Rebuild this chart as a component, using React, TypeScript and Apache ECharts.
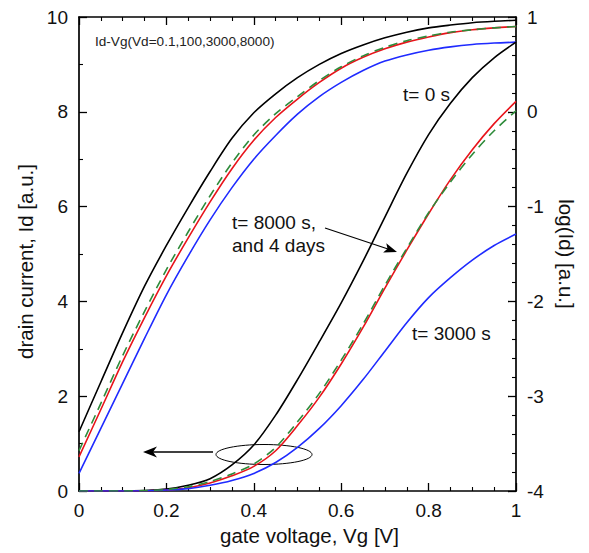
import React, { useEffect, useRef } from "react";
import * as echarts from "echarts";

// Gate voltage samples shared by all curves
const vg = [0, 0.05, 0.1, 0.15, 0.2, 0.25, 0.3, 0.35, 0.4, 0.45, 0.5, 0.55, 0.6, 0.65, 0.7, 0.75, 0.8, 0.85, 0.9, 0.95, 1.0];

// Upper family: log(Id) on right axis
const logT0 = [-3.375, -2.85, -2.33, -1.84, -1.41, -1.01, -0.63, -0.28, -0.01, 0.19, 0.36, 0.5, 0.615, 0.705, 0.78, 0.84, 0.885, 0.915, 0.94, 0.955, 0.965];
const logT8000 = [-3.64, -3.14, -2.635, -2.17, -1.73, -1.33, -0.95, -0.6, -0.3, -0.06, 0.135, 0.31, 0.46, 0.575, 0.665, 0.735, 0.79, 0.835, 0.865, 0.885, 0.9];
const logT4d = [-3.575, -3.075, -2.57, -2.105, -1.665, -1.265, -0.885, -0.54, -0.245, -0.02, 0.16, 0.33, 0.475, 0.59, 0.68, 0.75, 0.8, 0.84, 0.865, 0.885, 0.9];
const logT3000 = [-3.815, -3.34, -2.865, -2.39, -1.93, -1.52, -1.14, -0.8, -0.5, -0.25, -0.025, 0.16, 0.31, 0.435, 0.535, 0.6, 0.65, 0.685, 0.71, 0.725, 0.735];

// Lower family: linear Id on left axis
const idT0 = [0, 0, 0, 0.01, 0.04, 0.12, 0.26, 0.55, 0.97, 1.6, 2.35, 3.15, 3.97, 4.85, 5.78, 6.7, 7.52, 8.18, 8.72, 9.14, 9.47];
const idT8000 = [0, 0, 0, 0.005, 0.02, 0.07, 0.17, 0.32, 0.52, 0.85, 1.38, 1.98, 2.68, 3.45, 4.28, 5.08, 5.85, 6.57, 7.2, 7.75, 8.22];
const idT4d = [0, 0, 0, 0.01, 0.03, 0.09, 0.2, 0.36, 0.57, 0.92, 1.46, 2.06, 2.76, 3.52, 4.34, 5.12, 5.87, 6.52, 7.1, 7.6, 8.02];
const idT3000 = [0, 0, 0, 0.005, 0.02, 0.05, 0.12, 0.22, 0.37, 0.6, 0.92, 1.32, 1.8, 2.35, 2.95, 3.55, 4.08, 4.5, 4.87, 5.18, 5.42];

const FONT = "Liberation Sans, Arial, Helvetica, sans-serif";

const zip = (xs: number[], ys: number[]) => xs.map((x, i) => [x, ys[i]]);

export default function App() {
  const ref = useRef<HTMLDivElement>(null);
  useEffect(() => {
    if (!ref.current) return;
    const chart = echarts.init(ref.current, undefined, { renderer: "svg" });
    const axisLine = { show: true, onZero: false, lineStyle: { color: "#000", width: 1.7 } };
    const tick = { show: true, inside: true, length: 8, lineStyle: { color: "#000", width: 1.3 } };
    const minor = (n: number) => ({ show: true, splitNumber: n, length: 4, lineStyle: { color: "#000", width: 1.1 } });
    const lbl = { color: "#111", fontSize: 19, fontFamily: FONT };
    const line = (name: string, data: number[][], color: string, yAxisIndex: number, dashed = false) => ({
      type: "line",
      name,
      data,
      yAxisIndex,
      showSymbol: false,
      smooth: 0.3,
      lineStyle: { color, width: 1.6, type: dashed ? [9, 6] : "solid" },
      z: dashed ? 4 : 3,
    });
    chart.setOption({
      animation: false,
      backgroundColor: "#fff",
      grid: { left: 79, top: 17, right: 73, bottom: 62 },
      xAxis: [
        {
          type: "value", min: 0, max: 1, interval: 0.2,
          axisLine, axisTick: tick, minorTick: minor(4), splitLine: { show: false },
          axisLabel: { ...lbl, margin: 10, formatter: (v: number) => String(+v.toFixed(1)) },
          name: "gate voltage, Vg [V]", nameLocation: "middle", nameGap: 32,
          nameTextStyle: { color: "#111", fontSize: 20.5, fontFamily: FONT, padding: [0, 0, 0, 24] },
        },
        {
          type: "value", min: 0, max: 1, interval: 0.2, position: "top",
          axisLine, axisTick: tick, minorTick: minor(4), splitLine: { show: false },
          axisLabel: { show: false },
        },
      ],
      yAxis: [
        {
          type: "value", min: 0, max: 10, interval: 2,
          axisLine, axisTick: tick, minorTick: minor(2), splitLine: { show: false },
          axisLabel: { ...lbl, margin: 11 },
          name: "drain current, Id [a.u.]", nameLocation: "middle", nameGap: 42,
          nameTextStyle: { color: "#111", fontSize: 20.5, fontFamily: FONT, padding: [0, 15, 0, 0] },
        },
        {
          type: "value", min: -4, max: 1, interval: 1, position: "right",
          axisLine, axisTick: tick, minorTick: minor(5), splitLine: { show: false },
          axisLabel: { ...lbl, margin: 11 },
          name: "log(Id) [a.u.]", nameLocation: "middle", nameGap: 40, nameRotate: -90,
          nameTextStyle: { color: "#111", fontSize: 20.5, fontFamily: FONT },
        },
      ],
      series: [
        line("log t=0 s", zip(vg, logT0), "#000000", 1),
        line("log t=8000 s", zip(vg, logT8000), "#e8141b", 1),
        line("log t=4 days", zip(vg, logT4d), "#2e8b3a", 1, true),
        line("log t=3000 s", zip(vg, logT3000), "#1f2bff", 1),
        line("Id t=0 s", zip(vg, idT0), "#000000", 0),
        line("Id t=8000 s", zip(vg, idT8000), "#e8141b", 0),
        line("Id t=4 days", zip(vg, idT4d), "#2e8b3a", 0, true),
        line("Id t=3000 s", zip(vg, idT3000), "#1f2bff", 0),
      ],
      graphic: [
        { type: "text", left: 95, top: 34, style: { text: "Id-Vg(Vd=0.1,100,3000,8000)", fontSize: 13.6, fontFamily: FONT, fill: "#222" } },
        { type: "text", left: 403, top: 85, style: { text: "t= 0 s", fontSize: 19, fontFamily: FONT, fill: "#111" } },
        { type: "text", left: 412, top: 324, style: { text: "t= 3000 s", fontSize: 19, fontFamily: FONT, fill: "#111" } },
        { type: "text", left: 232, top: 211, style: { text: "t= 8000 s,\nand 4 days", fontSize: 19, lineHeight: 23, fontFamily: FONT, fill: "#111" } },
        { type: "line", shape: { x1: 325, y1: 228, x2: 388, y2: 249 }, style: { stroke: "#000", lineWidth: 1.3 } },
        { type: "polygon", shape: { points: [[397, 252], [383.1, 252.6], [387.5, 248.8], [386.3, 243.2]] }, style: { fill: "#000" } },
        { type: "line", shape: { x1: 213, y1: 452, x2: 152, y2: 452 }, style: { stroke: "#000", lineWidth: 1.3 } },
        { type: "polygon", shape: { points: [[143, 452], [157, 446.5], [153, 452], [157, 457.5]] }, style: { fill: "#000" } },
        { type: "ellipse", shape: { cx: 264, cy: 454.5, rx: 48, ry: 10 }, style: { fill: "none", stroke: "#000", lineWidth: 1 } },
      ],
    });
    return () => chart.dispose();
  }, []);
  return <div ref={ref} style={{ position: "fixed", left: 0, top: 0, width: 589, height: 553 }} />;
}
